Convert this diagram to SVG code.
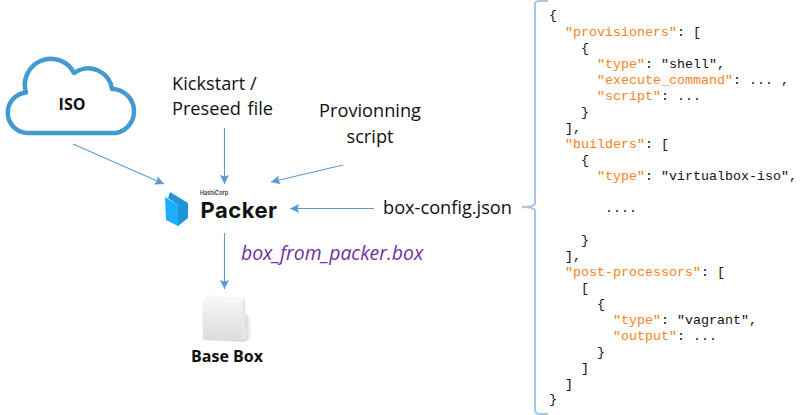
<svg xmlns="http://www.w3.org/2000/svg" width="805" height="415" viewBox="0 0 805 415">
<style>
.lbl{font-family:"Open Sans","Noto Sans",sans-serif;font-size:18.2px;fill:#111}
.bold{font-family:"Open Sans","Noto Sans",sans-serif;font-size:16px;font-weight:700;fill:#111}
.conn{stroke:#5b9bd5;stroke-width:1.1;fill:none;marker-end:url(#arrow)}
.j{font-family:"Liberation Mono",monospace;font-size:13.33px;fill:#111}
.k{fill:#f58220}
</style>
<defs>
<marker id="arrow" markerUnits="userSpaceOnUse" markerWidth="10" markerHeight="9" refX="9" refY="4.5" orient="auto"><path d="M0,0L9,4.5L0,9L1.5,4.5Z" fill="#5b9bd5"/></marker>
<linearGradient id="cubeF" x1="0" y1="0" x2="0" y2="1"><stop offset="0" stop-color="#f4f4f4"/><stop offset="1" stop-color="#dcdcdc"/></linearGradient>
<linearGradient id="shade" x1="0" y1="0" x2="1" y2="0"><stop offset="0" stop-color="#c8c8c8"/><stop offset="1" stop-color="#fff"/></linearGradient>
</defs>
<rect width="805" height="415" fill="#fff"/>
<g id="connectors">
<path class="conn" d="M73,144L164,184"/>
<path class="conn" d="M224.500,128V184"/>
<path class="conn" d="M343,165L271,182"/>
<path class="conn" d="M374,208.500H290"/>
<path class="conn" d="M224.500,233V289"/>
<path d="M548,1H540Q535,1 535,4V203Q535,207 522,207Q535,207 535,211V410Q535,414 540,414H548" fill="none" stroke="#a5c8e8" stroke-width="2"/>
</g>
<g id="iso">
<path d="M28,133A20.300,20.300 0 0 1 26,92.500A26,26 0 0 1 74,73A24,24 0 0 1 112,89A22.200,22.200 0 0 1 116,133Z" fill="#fff" stroke="#419bd1" stroke-width="4.500" stroke-linejoin="round"/>
<text class="bold" x="72" y="110" text-anchor="middle">ISO</text>
</g>
<g id="kickstart">
<text class="lbl" x="172" y="90">Kickstart /</text>
<text class="lbl" x="172" y="115" word-spacing="2">Preseed file</text>
</g>
<g id="provisioning">
<text class="lbl" x="370" y="117" text-anchor="middle">Provionning</text>
<text class="lbl" x="370" y="143" text-anchor="middle">script</text>
</g>
<g id="packer">
<path d="M170,192L188,203V218L178,226V205L168,198Z" fill="#1f94d8"/>
<path d="M165,197L178,205V226L166,220Z" fill="#1daeff"/>
<text x="200.500" y="217.500" font-family="Inter,'Open Sans',sans-serif" font-size="22" font-weight="700" letter-spacing="0.500" fill="#111">Packer</text>
<text x="200" y="194.500" font-family="Inter,'Open Sans',sans-serif" font-size="5.500" font-weight="600" fill="#333">HashiCorp</text>
</g>
<g id="config">
<text class="lbl" x="383" y="214">box-config.json</text>
</g>
<g id="boxfile">
<text x="241" y="260" font-family="'Open Sans','Noto Sans',sans-serif" font-size="19.400px" font-style="italic" fill="#7030a0">box_from_packer.box</text>
</g>
<g id="basebox">
<path d="M246,312L252,325V339L243,342Z" fill="url(#shade)"/>
<path d="M202,301L242,303L243,342L203,340Z" fill="url(#cubeF)"/>
<path d="M202,301L208,295L245,298L242,303Z" fill="#f7f7f7"/>
<path d="M242,303L245,298L246,337L243,342Z" fill="#e6e6e6"/>
<text class="bold" x="227" y="362" text-anchor="middle">Base Box</text>
</g>
<g id="json">
<text class="j" x="549" y="19">{</text>
<text class="j" x="565" y="36"><tspan class="k">"provisioners"</tspan>: [</text>
<text class="j" x="581" y="52">{</text>
<text class="j" x="597" y="68"><tspan class="k">"type"</tspan>: "shell",</text>
<text class="j" x="597" y="84"><tspan class="k">"execute_command"</tspan>: ... ,</text>
<text class="j" x="597" y="100"><tspan class="k">"script"</tspan>: ...</text>
<text class="j" x="581" y="116">}</text>
<text class="j" x="565" y="132">],</text>
<text class="j" x="565" y="148"><tspan class="k">"builders"</tspan>: [</text>
<text class="j" x="581" y="164">{</text>
<text class="j" x="597" y="180"><tspan class="k">"type"</tspan>: "virtualbox-iso",</text>
<text class="j" x="605" y="212">....</text>
<text class="j" x="581" y="244">}</text>
<text class="j" x="565" y="260">],</text>
<text class="j" x="565" y="276"><tspan class="k">"post-processors"</tspan>: [</text>
<text class="j" x="581" y="292">[</text>
<text class="j" x="597" y="308">{</text>
<text class="j" x="613" y="324"><tspan class="k">"type"</tspan>: "vagrant",</text>
<text class="j" x="613" y="340"><tspan class="k">"output"</tspan>: ...</text>
<text class="j" x="597" y="356">}</text>
<text class="j" x="581" y="372">]</text>
<text class="j" x="565" y="388">]</text>
<text class="j" x="549" y="403">}</text>
</g>
</svg>
